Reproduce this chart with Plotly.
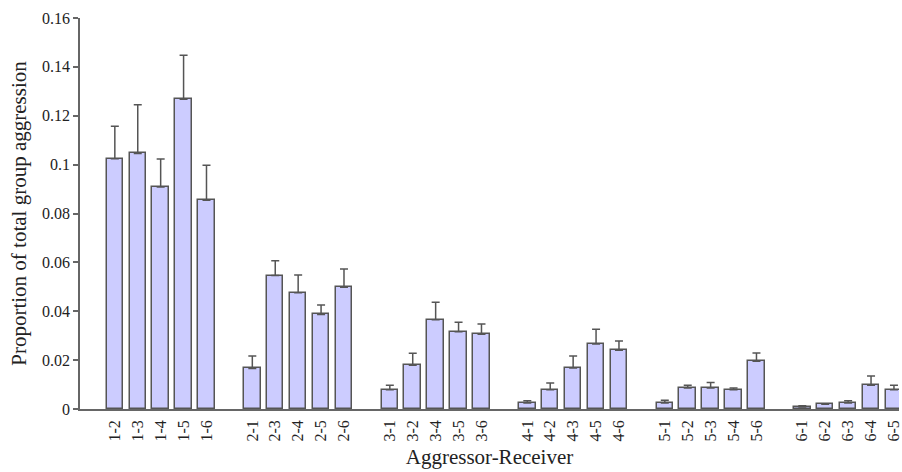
import plotly.graph_objects as go

categories = ["1-2", "1-3", "1-4", "1-5", "1-6",
              "2-1", "2-3", "2-4", "2-5", "2-6",
              "3-1", "3-2", "3-4", "3-5", "3-6",
              "4-1", "4-2", "4-3", "4-5", "4-6",
              "5-1", "5-2", "5-3", "5-4", "5-6",
              "6-1", "6-2", "6-3", "6-4", "6-5"]
values = [0.1024, 0.1046, 0.0908, 0.1268, 0.0854,
          0.0166, 0.0546, 0.0476, 0.0387, 0.0498,
          0.0079, 0.0179, 0.0365, 0.0316, 0.0306,
          0.0025, 0.0079, 0.0168, 0.0266, 0.0240,
          0.0025, 0.0086, 0.0086, 0.0079, 0.0195,
          0.0008, 0.0019, 0.0025, 0.0097, 0.0079]
upper_err = [0.0133, 0.0199, 0.0115, 0.0180, 0.0143,
             0.0051, 0.0061, 0.0072, 0.0039, 0.0075,
             0.0018, 0.0049, 0.0072, 0.0039, 0.0042,
             0.0009, 0.0027, 0.0049, 0.0060, 0.0038,
             0.0011, 0.0011, 0.0022, 0.0007, 0.0034,
             0.0005, 0.0000, 0.0009, 0.0038, 0.0018]
y_ticks = [0, 0.02, 0.04, 0.06, 0.08, 0.1, 0.12, 0.14, 0.16]
y_tick_labels = ["0", "0.02", "0.04", "0.06", "0.08", "0.1", "0.12", "0.14", "0.16"]

# slot positions: groups of 5 separated by one empty slot
positions = [i + i // 5 for i in range(len(categories))]

font_family = "Liberation Serif"
dark = "#555555"
text_color = "#222222"

fig = go.Figure(go.Bar(
    x=positions, y=values, width=0.72,
    marker=dict(color="#ccccff", line=dict(color=dark, width=1.5)),
    error_y=dict(type="data", symmetric=False, array=upper_err,
                 arrayminus=[0] * len(upper_err),
                 color=dark, thickness=1.5, width=4),
))

fig.update_layout(
    width=902, height=472,
    margin=dict(l=80, r=0, t=18, b=63),
    plot_bgcolor="white", paper_bgcolor="white",
    showlegend=False,
    font=dict(family=font_family, color=text_color, size=16),
    bargap=0,
)
fig.update_xaxes(
    range=[-1.52, 34.22],
    tickvals=positions, ticktext=categories, tickangle=-90,
    ticks="outside", ticklen=3, tickcolor="rgba(0,0,0,0)",
    ticklabeloverflow="allow",
    showline=True, linecolor="#666666", linewidth=1.5,
    showgrid=False, zeroline=False,
    tickfont=dict(family=font_family, size=16, color=text_color),
    title=dict(text="Aggressor-Receiver", font=dict(family=font_family, size=21, color=text_color), standoff=9),
)
fig.update_yaxes(
    range=[0, 0.16],
    tickvals=y_ticks, ticktext=y_tick_labels,
    ticks="outside", ticklen=5, tickcolor="#666666", tickwidth=1.5,
    showline=True, linecolor="#666666", linewidth=1.5,
    showgrid=False, zeroline=False,
    tickfont=dict(family=font_family, size=16, color=text_color),
    title=dict(text="Proportion of total group aggression", font=dict(family=font_family, size=21, color=text_color), standoff=10),
)

fig.write_html("out.html")
